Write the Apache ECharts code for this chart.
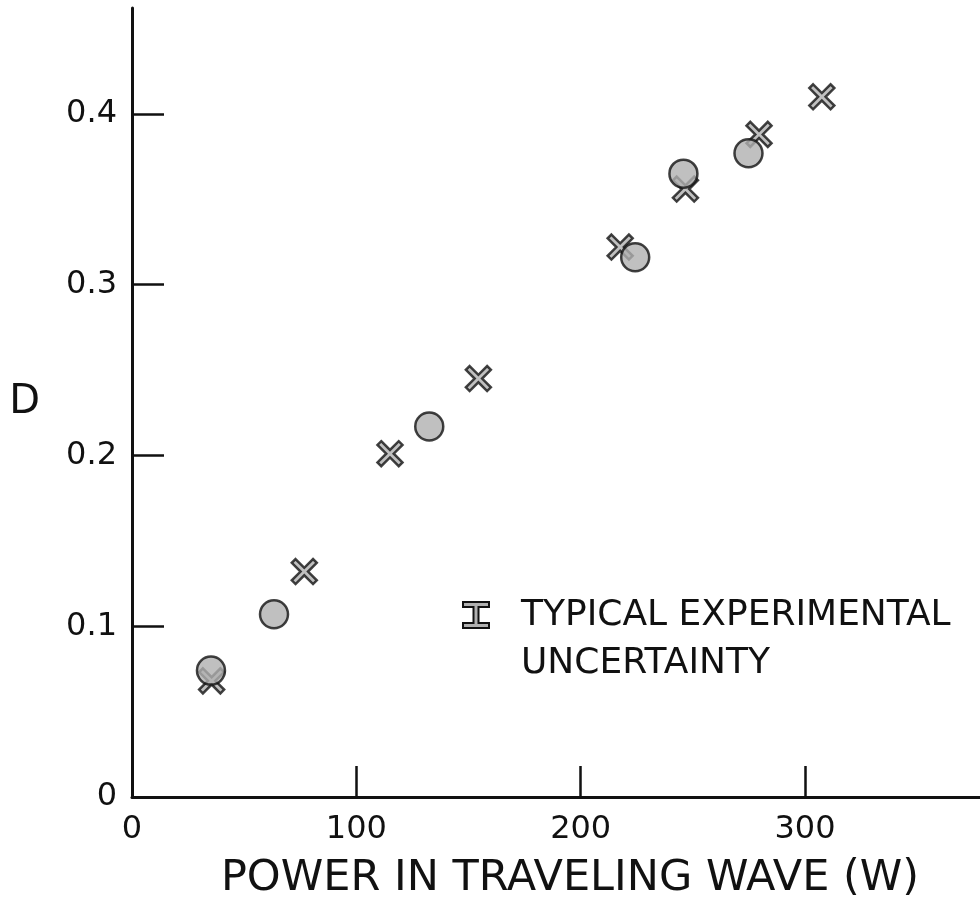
<!DOCTYPE html>
<html style="height: 100%">
<head>
    <meta charset="utf-8">
</head>
<body style="height: 100%; margin: 0; background: #fff">
<div id="container" style="width: 980px; height: 902px"></div>
<script type="text/javascript" src="https://cdn.jsdelivr.net/npm/echarts@6/dist/echarts.min.js"></script>
<script type="text/javascript">
    // data: [power (W), D]
    var circlePoints = [[35.2, 0.074], [63.3, 0.107], [132.5, 0.217], [224.3, 0.316], [245.8, 0.365], [274.8, 0.377]];
    var crossPoints = [[35.5, 0.068], [76.8, 0.132], [115.0, 0.201], [154.4, 0.245], [217.6, 0.322], [246.7, 0.356], [279.5, 0.388], [307.5, 0.410]];
    var xTicks = [0, 100, 200, 300];
    var yTicks = [0.1, 0.2, 0.3, 0.4];
    var yLabels = [0, 0.1, 0.2, 0.3, 0.4];
    var xTitle = 'POWER IN TRAVELING WAVE (W)';
    var yTitle = 'D';
    var noteText = 'TYPICAL EXPERIMENTAL\nUNCERTAINTY';

    var ink = '#111';
    var fill = '#b0b0b0';
    var font = 'DejaVu Sans';
    var crossPath = 'path://M3,0 L10,7 L17,0 L20,3 L13,10 L20,17 L17,20 L10,13 L3,20 L0,17 L7,10 L0,3 Z';

    var dom = document.getElementById("container");
    var myChart = echarts.init(dom);

    var option = {
        animation: false,
        backgroundColor: '#fff',
        grid: {
            left: 132,
            right: 0,
            top: 8,
            bottom: 105,
            outerBoundsMode: 'none'
        },
        xAxis: {
            type: 'value',
            min: 0,
            max: 378,
            name: xTitle,
            nameLocation: 'middle',
            nameGap: 60,
            nameTextStyle: {
                color: ink,
                fontFamily: font,
                fontSize: 43,
                padding: [0, 0, 0, 28]
            },
            axisLine: {lineStyle: {color: ink, width: 3}},
            axisTick: {
                inside: true,
                length: 31,
                customValues: xTicks,
                lineStyle: {color: ink, width: 2.5}
            },
            axisLabel: {
                customValues: xTicks,
                margin: 17,
                color: ink,
                fontFamily: font,
                fontSize: 32
            },
            splitLine: {show: false}
        },
        yAxis: {
            type: 'value',
            min: 0,
            max: 0.462,
            name: yTitle,
            nameLocation: 'middle',
            nameRotate: 0,
            nameGap: 92,
            nameTextStyle: {
                color: ink,
                fontFamily: font,
                fontSize: 40
            },
            axisLine: {lineStyle: {color: ink, width: 3}},
            axisTick: {
                inside: true,
                length: 32,
                customValues: yTicks,
                lineStyle: {color: ink, width: 2.5}
            },
            axisLabel: {
                customValues: yLabels,
                margin: 15,
                color: ink,
                fontFamily: font,
                fontSize: 32,
                formatter: function (v) {
                    return v === 0 ? '0' : v.toFixed(1);
                }
            },
            splitLine: {show: false}
        },
        graphic: [
            {
                // error bar symbol of the note
                type: 'polygon',
                shape: {
                    points: [[463, 602], [489, 602], [489, 607], [478.5, 607], [478.5, 623], [489, 623],
                        [489, 628], [463, 628], [463, 623], [473.5, 623], [473.5, 607], [463, 607]]
                },
                style: {fill: fill, stroke: ink, lineWidth: 2}
            },
            {
                type: 'text',
                left: 521,
                top: 592,
                style: {
                    text: noteText,
                    fill: ink,
                    fontFamily: font,
                    fontSize: 36,
                    lineHeight: 48
                }
            }
        ],
        series: [
            {
                name: 'cross',
                type: 'scatter',
                symbol: crossPath,
                symbolSize: 25,
                itemStyle: {color: fill, borderColor: ink, borderWidth: 2.5},
                data: crossPoints
            },
            {
                name: 'circle',
                type: 'scatter',
                symbol: 'circle',
                symbolSize: 28,
                itemStyle: {color: fill, borderColor: ink, borderWidth: 2.5},
                data: circlePoints
            }
        ]
    };

    if (option && typeof option === "object") {
        myChart.setOption(option, true);
    }
</script>
</body>
</html>
